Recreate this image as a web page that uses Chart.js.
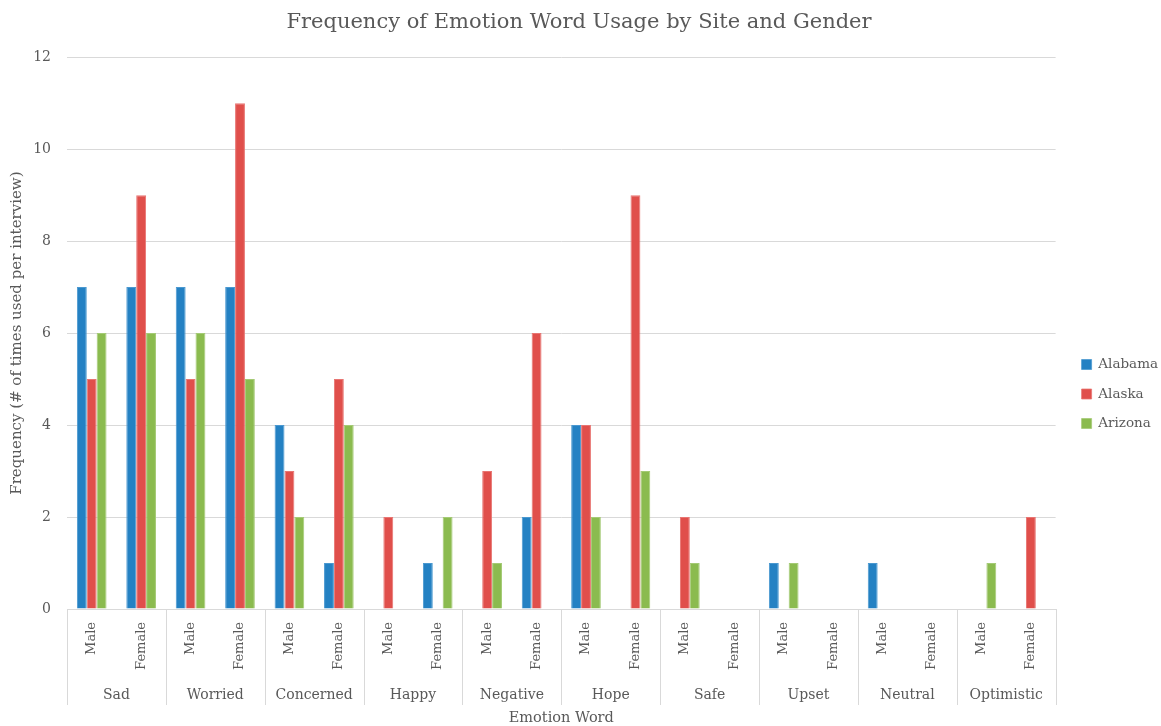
<!DOCTYPE html>
<html>
<head>
<meta charset="utf-8">
<script src="https://cdn.jsdelivr.net/npm/chart.js@4.4.1/dist/chart.umd.min.js"></script>
<style>
  html, body { margin: 0; padding: 0; background: #ffffff; }
  #wrap { width: 1161px; height: 726px; position: relative; }
</style>
</head>
<body>
<div id="wrap"><canvas id="chart" width="1161" height="726"></canvas></div>
<script>
// Emotion words (outer category tier) and gender (inner tier)
const emotions = ['Sad', 'Worried', 'Concerned', 'Happy', 'Negative', 'Hope', 'Safe', 'Upset', 'Neutral', 'Optimistic'];
const genders = ['Male', 'Female'];

// Frequencies per site, ordered emotion by emotion: Male, Female
const alabama = [7, 7, 7, 7, 4, 1, 0, 1, 0, 2, 4, 0, 0, 0, 1, 0, 1, 0, 0, 0];
const alaska  = [5, 9, 5, 11, 3, 5, 2, 0, 3, 6, 4, 9, 2, 0, 0, 0, 0, 0, 0, 2];
const arizona = [6, 6, 6, 5, 2, 4, 0, 2, 1, 0, 2, 3, 1, 0, 1, 0, 0, 0, 1, 0];

const yTicks = [0, 2, 4, 6, 8, 10, 12];

const FONT = "'DejaVu Serif', 'Liberation Serif', serif";
const TEXT = '#595959';
const LINE = '#d9d9d9';

const labels = [];
emotions.forEach(() => genders.forEach(g => labels.push(g)));

// Draws the outer emotion tier under the gender labels, with separators
const groupAxis = {
  id: 'groupAxis',
  afterDraw(chart) {
    const x = chart.scales.x;
    const area = chart.chartArea;
    const ctx = chart.ctx;
    const half = (x.getPixelForValue(1) - x.getPixelForValue(0)) / 2;
    const lineBottom = area.bottom + 96;
    ctx.save();
    ctx.strokeStyle = LINE;
    ctx.lineWidth = 1;
    for (let i = 0; i <= emotions.length; i++) {
      const px = i < emotions.length
        ? x.getPixelForValue(i * genders.length) - half
        : x.getPixelForValue(labels.length - 1) + half;
      const sx = Math.round(px) + 0.5;
      ctx.beginPath();
      ctx.moveTo(sx, area.bottom);
      ctx.lineTo(sx, lineBottom);
      ctx.stroke();
    }
    ctx.fillStyle = TEXT;
    ctx.font = '14px ' + FONT;
    ctx.textAlign = 'center';
    ctx.textBaseline = 'middle';
    emotions.forEach((e, i) => {
      const a = x.getPixelForValue(i * genders.length);
      const b = x.getPixelForValue(i * genders.length + genders.length - 1);
      ctx.fillText(e, (a + b) / 2, area.bottom + 86);
    });
    ctx.restore();
  }
};

// Nudges the legend block to sit beside the middle of the plot
const legendNudge = {
  id: 'legendNudge',
  afterLayout(chart) {
    const lg = chart.legend;
    lg.left += 10; lg.right += 10;
    lg.top += 31; lg.bottom += 31;
  }
};

new Chart(document.getElementById('chart'), {
  type: 'bar',
  data: {
    labels: labels,
    datasets: [
      { label: 'Alabama', data: alabama, backgroundColor: '#2481c3', borderColor: '#4a98d0', borderWidth: { left: 1, right: 1, top: 1 } },
      { label: 'Alaska',  data: alaska,  backgroundColor: '#e04f4b', borderColor: '#e87572', borderWidth: { left: 1, right: 1, top: 1 } },
      { label: 'Arizona', data: arizona, backgroundColor: '#8bbb4f', borderColor: '#a4ca75', borderWidth: { left: 1, right: 1, top: 1 } }
    ]
  },
  options: {
    responsive: false,
    animation: false,
    devicePixelRatio: 1,
    layout: { padding: { left: 0, right: 3, top: 0, bottom: 0 } },
    datasets: { bar: { categoryPercentage: 0.6, barPercentage: 1.0 } },
    plugins: {
      title: {
        display: true,
        text: 'Frequency of Emotion Word Usage by Site and Gender',
        color: TEXT,
        font: { family: FONT, size: 21, weight: 'normal' },
        padding: { top: 10, bottom: 22 }
      },
      legend: {
        position: 'right',
        labels: {
          color: TEXT,
          font: { family: FONT, size: 13.5 },
          boxWidth: 10,
          boxHeight: 10,
          padding: 16
        }
      },
      tooltip: { enabled: false }
    },
    scales: {
      x: {
        grid: { display: false },
        border: { display: true, color: LINE, width: 1 },
        ticks: {
          color: TEXT,
          font: { family: FONT, size: 13 },
          minRotation: 90,
          maxRotation: 90,
          padding: 5,
          autoSkip: false
        },
        title: {
          display: true,
          text: 'Emotion Word',
          color: TEXT,
          font: { family: FONT, size: 14.5 },
          padding: { top: 0, bottom: -1 }
        },
        afterFit(scale) { scale.height = 117; }
      },
      y: {
        min: 0,
        max: 12,
        afterBuildTicks(scale) { scale.ticks = yTicks.map(v => ({ value: v })); },
        grid: { color: LINE, drawTicks: false },
        border: { display: false },
        ticks: {
          color: TEXT,
          font: { family: FONT, size: 14 },
          padding: 16
        },
        title: {
          display: true,
          text: 'Frequency (# of times used per interview)',
          color: TEXT,
          font: { family: FONT, size: 15 },
          padding: { top: 8, bottom: 0 }
        },
        afterFit(scale) { scale.width = 67; }
      }
    }
  },
  plugins: [groupAxis, legendNudge]
});
</script>
</body>
</html>
